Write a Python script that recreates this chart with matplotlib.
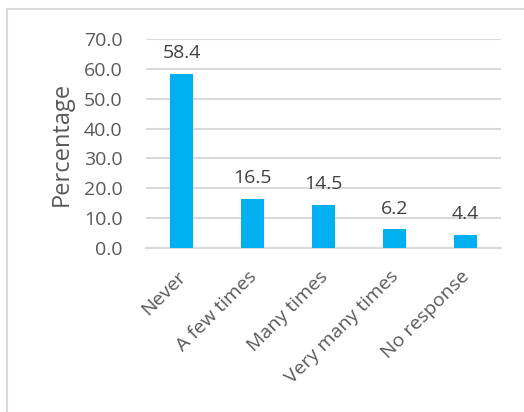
import numpy as np
import matplotlib.pyplot as plt
from matplotlib.patches import Rectangle
from matplotlib.transforms import ScaledTranslation

categories = ["Never", "A few times", "Many times", "Very many times", "No response"]
values = [58.4, 16.5, 14.5, 6.2, 4.4]

plt.rcParams['font.family'] = ['Open Sans', 'DejaVu Sans']

fig = plt.figure(figsize=(5.24, 4.12), dpi=100)
# chart border (runs off the right and bottom edges)
fig.patches.append(Rectangle((7/524, -0.2), 1.2, 1.2 - 9/412, transform=fig.transFigure,
                             fill=False, edgecolor="#D9D9D9", linewidth=1.5))

ax = fig.add_axes([146/524, 1 - 248/412, (501-146)/524, (248-39)/412])
x = np.arange(len(categories))
ax.bar(x, values, width=0.32, color="#00B0F0", zorder=3)
for xi, v in zip(x, values):
    ax.annotate(f"{v:.1f}", (xi, v), xytext=(0, 11.5), textcoords="offset points",
                ha="center", va="baseline", fontsize=14, color="#404040")

ax.set_xlim(-0.5, len(categories) - 0.5)
ax.set_ylim(0, 70)
ax.set_yticks(np.arange(0, 71, 10))
ax.set_yticklabels([f"{t:.1f}" for t in np.arange(0, 71, 10)])
ax.yaxis.grid(True, color="#D9D9D9", linewidth=1.5, zorder=0)
ax.set_axisbelow(True)
for s in ["top", "right", "left"]:
    ax.spines[s].set_visible(False)
ax.spines["bottom"].set_color("#D9D9D9")
ax.spines["bottom"].set_linewidth(1.5)
ax.tick_params(axis="both", length=0, labelsize=14, colors="#595959")
ax.tick_params(axis="y", pad=17)
ax.tick_params(axis="x", pad=14)
ax.set_xticks(x)
ax.set_xticklabels(categories, rotation=45, ha="right", va="top", rotation_mode="anchor")
shift = ScaledTranslation(-5/100, 0, fig.dpi_scale_trans)
for lab in ax.get_xticklabels():
    lab.set_transform(lab.get_transform() + shift)
ax.set_ylabel("Percentage", fontsize=17, color="#595959", labelpad=7)

fig.savefig("out.png", dpi=100)
